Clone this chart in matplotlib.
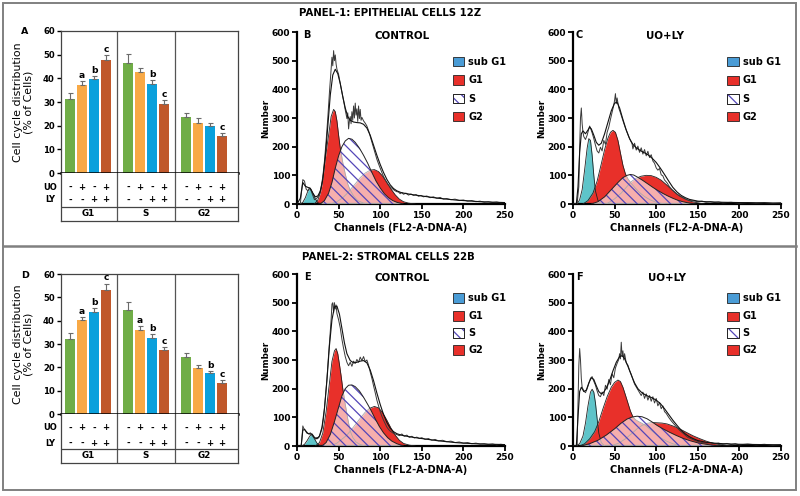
import numpy as np, matplotlib; matplotlib.use("Agg")
import matplotlib.pyplot as plt
from matplotlib.patches import Rectangle
from matplotlib.lines import Line2D
plt.rcParams['font.family']=['DejaVu Sans']
plt.rcParams['hatch.linewidth']=0.9

# ---- bar chart data (A: epithelial 12Z, D: stromal 22B)
PHASES=['G1','S','G2']
TREAT_COL=['#70AD47','#F8A946','#0AA0DC','#C0582B']
UO=['-','+','-','+']; LY=['-','-','+','+']
A_mean=[[31.4,37.2,39.6,47.7],[46.6,42.7,37.6,29.2],[23.5,21.3,19.9,15.6]]
A_err=[[2.3,1.7,1.4,2.2],[3.5,1.7,1.7,1.6],[1.7,1.8,1.1,1.2]]
A_sig=[['','a','b','c'],['','','b','c'],['','','','c']]
D_mean=[[32.1,40.1,43.9,53.3],[44.7,36.1,32.6,27.3],[24.3,19.6,17.6,13.3]]
D_err=[[2.6,1.3,1.5,2.6],[3.2,1.5,1.8,1.4],[1.8,1.5,0.8,1.1]]
D_sig=[['','a','b','c'],['','a','b','c'],['','','b','c']]

# ---- flow cytometry histograms, (channel, number) pairs
B_sub=[(4,0),(7,6),(10,22),(13,45),(15,54),(17,50),(19,38),(22,18),(25,5),(28,0)]
B_g1=[(21,0),(25,14),(28,38),(30,66),(32,110),(34,159),(36,200),(38,240),(41,305),(44,330),(46,322),(48,290),(50,240),(52,195),(55,145),(58,105),(61,70),(64,48),(68,28),(73,12),(80,3),(88,0)]
B_s=[(28,0),(33,12),(38,38),(42,75),(46,125),(50,168),(54,200),(58,220),(62,229),(66,226),(70,215),(75,195),(80,170),(85,142),(90,110),(95,80),(100,56),(105,36),(110,22),(115,12),(120,6),(128,0)]
B_g2=[(40,0),(48,8),(55,22),(60,36),(64,50),(70,70),(76,92),(82,108),(88,118),(93,120),(98,113),(103,97),(108,75),(113,52),(118,32),(123,17),(128,8),(134,3),(142,0)]
B_fit=[(0,0),(4,20),(7,75),(10,62),(13,58),(16,55),(19,38),(22,25),(25,28),(28,45),(31,85),(34,165),(37,270),(40,380),(43,450),(46,470),(49,455),(52,420),(55,375),(58,335),(61,305),(64,292),(68,286),(72,284),(76,283),(80,278),(84,265),(88,240),(92,205),(96,170),(100,138),(104,110),(108,86),(112,67),(116,54),(120,46),(125,40),(130,37),(140,32),(150,28),(160,24),(170,20),(180,17),(190,14),(200,12),(210,10),(220,8),(230,7),(240,6),(250,5)]
B_raw=[(4,0),(5,30),(7,85),(9,80),(11,52),(13,46),(15,56),(17,46),(19,30),(21,15),(23,18),(25,24),(27,34),(29,58),(31,95),(33,150),(35,220),(37,300),(39,390),(41,470),(42,512),(43,482),(44,535),(45,500),(46,520),(47,488),(48,470),(50,452),(52,420),(54,390),(56,360),(58,328),(60,298),(61,318),(62,262),(63,290),(64,305),(65,280),(66,322),(67,292),(68,342),(69,300),(70,352),(71,310),(72,332),(73,288),(74,342),(75,298),(76,330),(77,292),(78,302),(80,290),(82,282),(84,272),(86,256),(88,236),(90,216),(92,196),(94,176),(96,156),(98,140),(100,125),(102,110),(104,96),(106,85),(108,75),(110,66),(112,60),(114,55),(116,50),(118,46),(120,43),(122,42),(124,36),(126,40),(128,34),(131,38),(134,31),(137,35),(140,30),(143,33),(146,27),(149,30),(152,25),(156,28),(160,22),(164,25),(168,20),(172,23),(176,17),(180,19),(185,15),(190,17),(195,12),(200,14),(205,10),(210,12),(215,8),(220,10),(225,6),(230,8),(235,5),(240,7),(245,4),(250,5)]

C_sub=[(5,0),(8,15),(11,50),(14,120),(17,195),(19,228),(21,222),(23,170),(25,100),(27,45),(30,12),(34,0)]
C_g1=[(12,0),(18,12),(24,38),(29,80),(34,140),(38,190),(42,230),(45,250),(48,257),(51,250),(54,222),(57,178),(60,135),(63,105),(66,88),(70,72),(75,55),(80,40),(86,26),(93,14),(100,6),(110,0)]
C_s=[(22,0),(30,8),(38,25),(46,50),(54,75),(60,92),(65,100),(69,103),(73,101),(78,93),(84,82),(90,70),(96,58),(102,47),(108,37),(114,28),(120,20),(126,13),(132,8),(140,3),(148,0)]
C_g2=[(40,0),(50,18),(58,38),(64,58),(70,78),(76,90),(82,97),(88,100),(94,99),(100,93),(106,83),(112,68),(118,52),(124,37),(130,25),(136,16),(142,9),(150,4),(158,0)]
C_fit=[(0,0),(4,0),(6,60),(8,180),(10,245),(12,255),(15,245),(18,258),(20,268),(22,262),(25,240),(28,215),(31,205),(34,212),(38,245),(42,285),(46,325),(50,352),(53,355),(56,335),(60,295),(64,258),(68,228),(72,208),(76,196),(80,188),(85,180),(90,172),(95,160),(100,145),(105,125),(110,103),(115,80),(120,58),(125,42),(130,30),(135,22),(140,16),(150,10),(160,8),(180,6),(200,5),(225,4),(250,3)]
C_raw=[(0,0),(5,2),(7,60),(8,200),(9,300),(10,335),(11,280),(12,250),(13,235),(15,225),(17,240),(19,262),(20,272),(21,265),(23,248),(25,228),(27,205),(29,185),(31,178),(33,198),(35,185),(37,222),(39,208),(41,250),(43,268),(45,295),(47,320),(49,345),(50,362),(51,385),(52,350),(53,370),(55,335),(57,318),(59,300),(61,282),(63,265),(65,250),(67,235),(69,222),(71,210),(72,192),(74,212),(76,188),(78,202),(80,180),(82,196),(84,174),(86,190),(88,168),(90,184),(92,162),(94,172),(96,150),(98,142),(100,126),(102,118),(104,124),(106,102),(108,98),(110,84),(113,74),(116,60),(119,50),(122,42),(125,34),(128,28),(131,24),(134,19),(137,15),(140,12),(145,11),(150,8),(155,10),(160,6),(165,8),(170,5),(175,7),(180,4),(190,6),(200,3),(210,5),(220,3),(230,5),(240,2),(250,4)]

E_sub=[(6,0),(9,6),(12,18),(15,33),(17,40),(19,36),(21,25),(24,10),(27,2),(30,0)]
E_g1=[(22,0),(27,12),(31,45),(35,120),(39,220),(42,295),(45,332),(47,340),(49,322),(51,285),(53,245),(55,200),(58,145),(61,95),(64,52),(67,30),(71,14),(76,5),(82,0)]
E_s=[(30,0),(35,12),(40,40),(45,85),(50,135),(54,175),(58,200),(62,212),(66,213),(70,207),(75,192),(80,170),(85,145),(89,124),(94,95),(99,68),(104,46),(109,29),(114,17),(120,8),(128,0)]
E_g2=[(40,0),(48,10),(55,26),(60,38),(64,52),(70,74),(76,97),(82,118),(87,131),(93,138),(98,133),(103,116),(108,90),(113,62),(118,38),(123,20),(128,9),(135,3),(142,0)]
E_fit=[(0,0),(5,0),(7,55),(9,58),(12,45),(15,42),(18,42),(21,30),(24,25),(27,35),(30,65),(33,130),(36,230),(39,350),(42,440),(45,485),(48,488),(51,460),(54,410),(57,360),(60,322),(64,298),(68,290),(72,292),(76,296),(80,298),(84,290),(88,265),(92,228),(96,185),(100,145),(104,110),(108,82),(112,62),(116,50),(120,43),(125,38),(130,35),(140,30),(150,26),(160,22),(170,18),(180,15),(190,12),(200,10),(220,7),(250,5)]
E_raw=[(5,0),(6,30),(7,70),(8,62),(10,55),(12,48),(14,42),(16,46),(18,38),(20,30),(22,24),(24,30),(26,28),(28,42),(30,60),(32,100),(34,165),(36,235),(38,320),(40,400),(41,440),(42,495),(43,500),(44,465),(45,500),(46,478),(47,492),(48,462),(50,440),(52,412),(54,372),(56,340),(58,312),(60,292),(62,280),(64,292),(66,278),(68,296),(70,288),(72,302),(74,292),(76,310),(78,298),(80,312),(82,294),(84,300),(86,282),(88,258),(90,236),(92,210),(94,186),(96,160),(98,140),(100,120),(102,104),(104,90),(106,78),(108,66),(110,58),(112,52),(114,48),(116,44),(118,42),(120,40),(123,36),(126,42),(129,34),(132,38),(135,30),(138,34),(141,28),(144,31),(147,26),(150,29),(154,23),(158,26),(162,20),(166,23),(170,18),(175,20),(180,15),(185,17),(190,12),(195,14),(200,10),(205,12),(210,8),(215,10),(220,7),(225,8),(230,5),(235,7),(240,4),(245,6),(250,4)]

F_sub=[(3,0),(8,8),(12,35),(15,80),(18,140),(21,188),(23,198),(25,188),(27,150),(29,95),(31,45),(34,12),(38,0)]
F_g1=[(8,0),(14,8),(20,25),(26,50),(31,85),(36,130),(41,172),(46,205),(50,222),(54,230),(57,225),(60,205),(63,178),(66,150),(69,122),(72,102),(75,92),(79,85),(83,79),(87,72),(91,62),(96,50),(101,38),(107,26),(113,16),(120,8),(130,0)]
F_s=[(10,0),(20,8),(30,20),(40,38),(50,60),(58,80),(65,94),(71,101),(77,104),(83,102),(89,95),(95,84),(101,72),(108,60),(116,48),(124,37),(132,27),(140,19),(150,11),(160,6),(170,2),(178,0)]
F_g2=[(45,0),(55,10),(63,25),(70,42),(77,60),(83,72),(89,79),(95,82),(101,81),(107,80),(113,77),(120,70),(128,60),(136,48),(144,36),(152,26),(160,17),(168,10),(176,5),(185,2),(192,0)]
F_fit=[(0,0),(4,0),(6,100),(8,190),(10,205),(13,190),(16,195),(19,220),(22,238),(25,232),(28,210),(31,190),(34,182),(37,188),(40,202),(44,228),(48,262),(52,292),(56,312),(59,315),(62,305),(66,278),(70,248),(74,220),(78,200),(82,188),(86,180),(90,174),(95,168),(100,160),(105,148),(110,130),(115,110),(120,90),(125,72),(130,55),(135,42),(140,32),(145,25),(150,19),(160,13),(170,10),(180,8),(200,6),(225,5),(250,4)]
F_raw=[(0,0),(5,0),(6,150),(7,280),(8,340),(9,300),(10,235),(11,205),(13,192),(15,186),(17,200),(19,218),(21,236),(23,242),(25,226),(27,212),(29,192),(31,176),(33,172),(35,188),(37,176),(39,212),(41,198),(43,232),(45,214),(47,252),(49,238),(51,272),(53,288),(55,302),(56,322),(57,304),(58,362),(59,312),(60,332),(61,300),(62,322),(64,290),(66,282),(68,264),(70,250),(72,232),(74,216),(76,206),(78,196),(80,186),(82,176),(84,188),(86,166),(88,182),(90,160),(92,176),(94,156),(96,172),(98,150),(100,166),(102,140),(104,152),(106,130),(108,140),(110,120),(112,114),(115,100),(118,88),(121,78),(124,68),(127,58),(130,50),(134,40),(138,30),(142,25),(146,20),(150,16),(155,12),(160,10),(165,12),(170,8),(175,10),(180,6),(185,9),(190,5),(195,8),(200,4),(210,7),(220,4),(230,6),(240,3),(250,5)]

LEG_LABELS=['sub G1','G1','S','G2']
TEAL='#5EC4C9'; RED='#E8302A'; SUBBLUE='#4A9CD6'; HATCHC='#5446B8'

W,H=800,496
def fx(x): return x/W
def fy(y): return 1-y/H

fig=plt.figure(figsize=(8,4.96),dpi=100)

def bar_panel(top,bot,tbot,uo_y,ly_y,line_y,g_y,letter,means,errs,sigs):
    ax=fig.add_axes([fx(61),fy(bot),(238-61)/W,(bot-top)/H])
    off=np.array([-1.5,-0.5,0.5,1.5])*0.207
    for g in range(3):
        for i in range(4):
            x=g+off[i]
            ax.bar(x,means[g][i],0.172,color=TREAT_COL[i],lw=0,zorder=2)
            ax.errorbar(x,means[g][i],yerr=[[0],[errs[g][i]]],color='#6b6b6b',lw=0.8,capsize=1.8,capthick=0.8,zorder=3)
            if sigs[g][i]:
                ax.text(x,means[g][i]+errs[g][i]+0.5,sigs[g][i],ha='center',va='bottom',fontsize=6.6,fontweight='bold')
    ax.set_xlim(-0.466,2.586); ax.set_ylim(0,60)
    for xx in [0.5,1.5]: ax.axvline(xx,color='#555555',lw=0.9)
    ax.set_xticks([]); ax.set_yticks(range(0,61,10))
    ax.tick_params(axis='y',direction='out',length=3,width=1,labelsize=6.1,pad=1.5)
    for t in ax.get_yticklabels(): t.set_fontweight('bold')
    for sp in ['top','right','left']: ax.spines[sp].set_color('#444444'); ax.spines[sp].set_linewidth(0.9)
    ax.spines['bottom'].set_linewidth(1.8)
    ax.set_ylabel("Cell cycle distribution\n(% of Cells)",fontsize=7.9,linespacing=1.05)
    ax.yaxis.set_label_coords(-0.155,0.5)
    fig.text(fx(25),fy(top+1),letter,fontsize=6.8,fontweight='bold',ha='center',va='center')
    tb=fig.add_axes([fx(61),fy(tbot),(238-61)/W,(tbot-bot)/H])
    tb.set_xlim(-0.466,2.586); tb.set_ylim(0,1)
    tb.set_xticks([]); tb.set_yticks([]); tb.spines['top'].set_visible(False)
    for sp in ['bottom','left','right']: tb.spines[sp].set_color('#444444'); tb.spines[sp].set_linewidth(0.9)
    for xx in [0.5,1.5]: tb.axvline(xx,color='#555555',lw=0.9)
    fr=lambda y:(tbot-y)/(tbot-bot)
    tb.axhline(fr(line_y),color='#444444',lw=0.9)
    for g in range(3):
        for i in range(4):
            tb.text(g+off[i],fr(uo_y),UO[i],ha='center',va='center',fontsize=6.2,fontweight='bold')
            tb.text(g+off[i],fr(ly_y),LY[i],ha='center',va='center',fontsize=6.2,fontweight='bold')
        tb.text(g,fr(g_y),PHASES[g],ha='center',va='center',fontsize=6.3,fontweight='bold')
    tb.text(-0.466-0.19,fr(uo_y),'UO',ha='center',va='center',fontsize=6,fontweight='bold')
    tb.text(-0.466-0.19,fr(ly_y),'LY',ha='center',va='center',fontsize=6,fontweight='bold')

def xy(p):
    a=np.array(p,float); return a[:,0],a[:,1]

def hist_panel(left,top,bot,letter,title,sub,g1,s,g2,fit,raw,leg_y,leg_x):
    ax=fig.add_axes([fx(left),fy(bot),208/W,(bot-top)/H])
    x,y=xy(sub); ax.fill_between(x,y,0,color=TEAL,lw=0,zorder=2); ax.plot(x,y,color='#222222',lw=0.6,zorder=3)
    for comp in (g1,g2):
        x,y=xy(comp); ax.fill_between(x,y,0,color=RED,lw=0,zorder=2)
    for comp in (g1,g2):
        x,y=xy(comp); ax.plot(x,y,color='#222222',lw=0.6,zorder=3)
    x,y=xy(s)
    ax.fill_between(x,y,0,facecolor=(1,1,1,0.62),edgecolor=HATCHC,hatch='\\\\\\',lw=0,zorder=4)
    ax.plot(x,y,color='#222222',lw=0.7,zorder=5)
    x,y=xy(raw); ax.plot(x,y,color='#3a3a3a',lw=0.7,zorder=6)
    x,y=xy(fit); ax.plot(x,y,color='#111111',lw=0.8,zorder=6)
    ax.set_xlim(0,250); ax.set_ylim(0,600)
    ax.set_xticks(range(0,251,50)); ax.set_yticks(range(0,601,100))
    for sp in ['top','right']: ax.spines[sp].set_visible(False)
    for sp in ['left','bottom']: ax.spines[sp].set_linewidth(1.6)
    ax.tick_params(direction='out',length=3.5,width=1.3,labelsize=6.5,pad=1.5)
    for t in ax.get_xticklabels()+ax.get_yticklabels(): t.set_fontweight('bold')
    ax.set_xlabel("Channels (FL2-A-DNA-A)",fontsize=7,fontweight='bold',labelpad=2.5)
    ax.set_ylabel("Number",fontsize=6.3,fontweight='bold')
    ax.yaxis.set_label_coords(-0.13,0.5)
    ax.text(letter[1],588,letter[0],fontsize=7,fontweight='bold',ha='center',va='center')
    ax.text(title[1],585,title[0],fontsize=7.4,fontweight='bold',ha='center',va='center')
    fcs=[SUBBLUE,RED,'white',RED]
    for k in range(4):
        ax.add_patch(Rectangle((leg_x,leg_y[k]-17),14,34,facecolor=fcs[k],edgecolor='#222222',lw=0.6,clip_on=False,zorder=7))
        if k==2:
            ax.add_patch(Rectangle((leg_x,leg_y[k]-17),14,34,facecolor='none',edgecolor=HATCHC,lw=0,
                                   hatch='\\\\\\',clip_on=False,zorder=8))
            ax.add_patch(Rectangle((leg_x,leg_y[k]-17),14,34,facecolor='none',edgecolor='#222222',lw=0.6,clip_on=False,zorder=9))
        ax.text(leg_x+19,leg_y[k],LEG_LABELS[k],fontsize=7,fontweight='bold',ha='left',va='center')

bar_panel(31,173,221,187,200,207,214,'A',A_mean,A_err,A_sig)
bar_panel(274,414,463,428,443,449,456,'D',D_mean,D_err,D_sig)
hist_panel(297,32,204,('B',12),('CONTROL',126),B_sub,B_g1,B_s,B_g2,B_fit,B_raw,[497,433,368,305],187)
hist_panel(573,32,204,('C',7),('UO+LY',111),C_sub,C_g1,C_s,C_g2,C_fit,C_raw,[497,431,367,305],185)
hist_panel(297,274,446,('E',12),('CONTROL',126),E_sub,E_g1,E_s,E_g2,E_fit,E_raw,[516,453,393,335],187)
hist_panel(573,274,446,('F',8),('UO+LY',113),F_sub,F_g1,F_s,F_g2,F_fit,F_raw,[516,452,394,336],185)

fig.text(fx(390),fy(13),"PANEL-1: EPITHELIAL CELLS 12Z",fontsize=7.3,fontweight='bold',ha='center',va='center')
fig.text(fx(388),fy(257),"PANEL-2: STROMAL CELLS 22B",fontsize=7.3,fontweight='bold',ha='center',va='center')
fig.add_artist(Rectangle((fx(3),fy(490)),(796-3)/W,(490-3)/H,transform=fig.transFigure,fill=False,ec='#808080',lw=1.4))
fig.add_artist(Line2D([fx(3),fx(796)],[fy(246)]*2,transform=fig.transFigure,color='#808080',lw=1.8))

fig.savefig("out.png",dpi=100)
